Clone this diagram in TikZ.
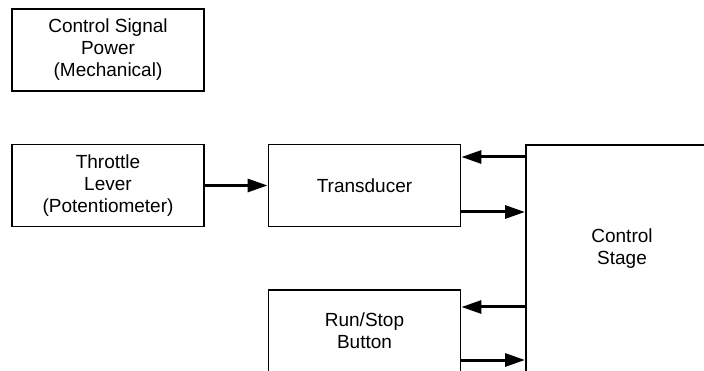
\documentclass[tikz,border=0pt]{standalone}
\usepackage{fontspec}
\setmainfont{Liberation Sans}
\usetikzlibrary{arrows.meta}
\begin{document}
\begin{tikzpicture}[x=1pt,y=-1pt,
  box/.style={draw,line width=1.9pt,minimum width=192pt,minimum height=82pt,
    align=center,inner sep=0pt,font=\fontsize{19}{22}\selectfont},
  txt/.style={align=center,font=\fontsize{19}{22}\selectfont},
  arr/.style={line width=3pt,-{Triangle[length=20pt,width=13pt]}}]
\useasboundingbox (0,0) rectangle (704,371);
\clip (0,0) rectangle (704,371);
\node[box] (csp) at (108,50) {Control Signal\\Power\\(Mechanical)};
\node[box] (thr) at (108,185.5) {Throttle\\Lever\\(Potentiometer)};
\node[box] (trans) at (364.5,185.5) {Transducer};
\node[box] (run) at (364.5,331) {Run/Stop\\Button};
\node[draw,line width=1.9pt,minimum width=196pt,minimum height=270pt,anchor=north west,inner sep=0pt] (cs) at (525,144) {};
\node[txt] (cstext) at (622,249) {Control\\Stage};
\draw[arr] (thr.east) -- (trans.west);
\draw[arr] (cs.west |- 0,157) -- (trans.east |- 0,157);
\draw[arr] (trans.east |- 0,212) -- (cs.west |- 0,212);
\draw[arr] (cs.west |- 0,307) -- (run.east |- 0,307);
\draw[arr] (run.east |- 0,360) -- (cs.west |- 0,360);
\end{tikzpicture}
\end{document}
